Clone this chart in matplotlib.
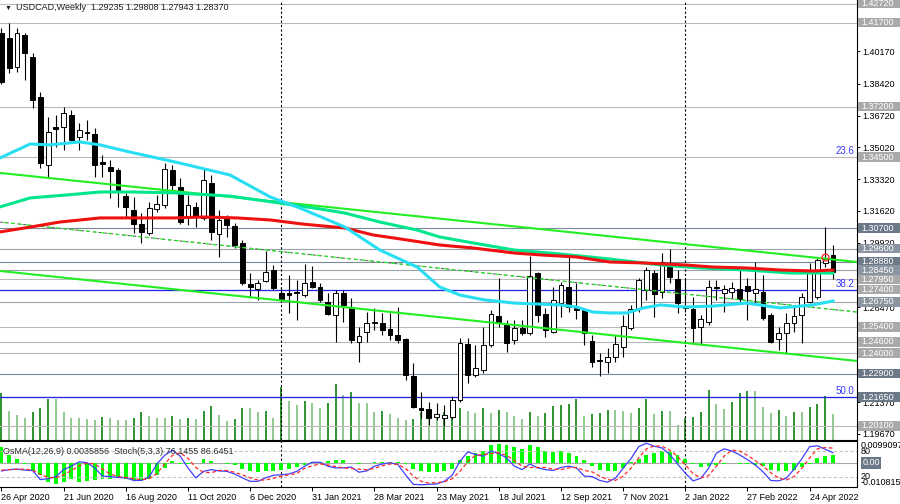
"""
USDCAD weekly chart (MT4 style): candles with moving averages, channel,
horizontal levels, tick volume overlay and an OsMA / Stochastic subwindow.
"""

import matplotlib
matplotlib.use("Agg")
import matplotlib.pyplot as plt
from matplotlib.patches import Rectangle
from matplotlib.transforms import blended_transform_factory
import numpy as np

plt.rcParams["font.family"] = ["Liberation Sans", "DejaVu Sans"]

# ---- weekly bars, 26 Apr 2020 .. 15 May 2022 ----
opens = [
    1.4114, 1.4088, 1.3932, 1.4104, 1.3986, 1.3772, 1.3407, 1.3611, 1.3611, 1.3675,
    1.3557, 1.3582, 1.3573, 1.3424, 1.3397, 1.3381, 1.3241, 1.3166, 1.3091, 1.3043,
    1.3172, 1.3193, 1.3381, 1.3290, 1.3129, 1.3183, 1.3124, 1.3311, 1.3038, 1.3118,
    1.3081, 1.2990, 1.2770, 1.2743, 1.2786, 1.2845, 1.2722, 1.2722, 1.2727, 1.2711,
    1.2781, 1.2754, 1.2674, 1.2604, 1.2722, 1.2642, 1.2460, 1.2513, 1.2561, 1.2561,
    1.2529, 1.2497, 1.2476, 1.2278, 1.2106, 1.2101, 1.2058, 1.2053, 1.2058, 1.2149,
    1.2449, 1.2283, 1.2310, 1.2444, 1.2599, 1.2551, 1.2470, 1.2535, 1.2508, 1.2829,
    1.2610, 1.2513, 1.2668, 1.2754, 1.2642, 1.2636, 1.2465, 1.2363, 1.2352, 1.2379,
    1.2433, 1.2535, 1.2636, 1.2738, 1.2829, 1.2727, 1.2861, 1.2797, 1.2655, 1.2636,
    1.2540, 1.2567, 1.2754, 1.2722, 1.2727, 1.2743, 1.2760, 1.2722, 1.2727, 1.2604,
    1.2476, 1.2508, 1.2561, 1.2604, 1.2674, 1.2701, 1.2883, 1.29235,
]
highs = [
    1.4140, 1.4168, 1.4141, 1.4114, 1.4007, 1.3798, 1.3664, 1.3675, 1.3718, 1.3702,
    1.3632, 1.3648, 1.3606, 1.3461, 1.3434, 1.3391, 1.3258, 1.3236, 1.3150, 1.3209,
    1.3247, 1.3418, 1.3407, 1.3338, 1.3247, 1.3209, 1.3391, 1.3354, 1.3166, 1.3140,
    1.3097, 1.3006, 1.2829, 1.2792, 1.2947, 1.2872, 1.2754, 1.2818, 1.2792, 1.2877,
    1.2867, 1.2776, 1.2722, 1.2738, 1.2738, 1.2695, 1.2540, 1.2620, 1.2642, 1.2615,
    1.2615, 1.2647, 1.2481, 1.2347, 1.2192, 1.2138, 1.2133, 1.2122, 1.2170, 1.2481,
    1.2481, 1.2444, 1.2540, 1.2631, 1.2802, 1.2577, 1.2577, 1.2577, 1.2920, 1.2834,
    1.2642, 1.2754, 1.2781, 1.2915, 1.2776, 1.2642, 1.2497, 1.2401, 1.2427, 1.2497,
    1.2604, 1.2658, 1.2802, 1.2861, 1.2845, 1.2936, 1.2958, 1.2845, 1.2800, 1.2701,
    1.2604, 1.2792, 1.2792, 1.2765, 1.2781, 1.2845, 1.2802, 1.2888, 1.2818, 1.2615,
    1.2540, 1.2615, 1.2658, 1.2722, 1.2883, 1.2910, 1.3075, 1.29808,
]
lows = [
    1.3840, 1.3900, 1.3905, 1.3863, 1.3713, 1.3391, 1.3343, 1.3504, 1.3488, 1.3531,
    1.3488, 1.3541, 1.3343, 1.3343, 1.3231, 1.3183, 1.3129, 1.3043, 1.2990, 1.3035,
    1.3156, 1.3177, 1.3274, 1.3091, 1.3086, 1.3075, 1.3113, 1.3006, 1.2915, 1.3022,
    1.2963, 1.2765, 1.2701, 1.2686, 1.2781, 1.2738, 1.2674, 1.2615, 1.2577, 1.2701,
    1.2749, 1.2674, 1.2604, 1.2460, 1.2567, 1.2454, 1.2352, 1.2460, 1.2524, 1.2497,
    1.2470, 1.2454, 1.2256, 1.2106, 1.2050, 1.2015, 1.2040, 1.2010, 1.2047, 1.2138,
    1.2240, 1.2272, 1.2294, 1.2433, 1.2540, 1.2406, 1.2449, 1.2497, 1.2497, 1.2567,
    1.2486, 1.2508, 1.2593, 1.2620, 1.2583, 1.2444, 1.2326, 1.2278, 1.2294, 1.2352,
    1.2379, 1.2524, 1.2620, 1.2686, 1.2593, 1.2695, 1.2776, 1.2615, 1.2620, 1.2460,
    1.2444, 1.2551, 1.2686, 1.2620, 1.2695, 1.2674, 1.2577, 1.2668, 1.2577, 1.2454,
    1.2417, 1.2401, 1.2513, 1.2454, 1.2668, 1.2690, 1.2860, 1.27943,
]
closes = [
    1.3850, 1.3927, 1.4114, 1.4007, 1.3755, 1.3418, 1.3584, 1.3600, 1.3686, 1.3541,
    1.3595, 1.3577, 1.3407, 1.3413, 1.3375, 1.3274, 1.3183, 1.3091, 1.3049, 1.3177,
    1.3199, 1.3386, 1.3300, 1.3102, 1.3193, 1.3129, 1.3327, 1.3049, 1.3113, 1.3086,
    1.2979, 1.2776, 1.2754, 1.2776, 1.2834, 1.2749, 1.2690, 1.2711, 1.2722, 1.2776,
    1.2754, 1.2686, 1.2610, 1.2722, 1.2658, 1.2470, 1.2492, 1.2561, 1.2567, 1.2524,
    1.2497, 1.2470, 1.2283, 1.2112, 1.2095, 1.2053, 1.2074, 1.2069, 1.2149, 1.2454,
    1.2283, 1.2320, 1.2444, 1.2610, 1.2561, 1.2454, 1.2535, 1.2508, 1.2813, 1.2604,
    1.2524, 1.2686, 1.2765, 1.2647, 1.2631, 1.2508, 1.2352, 1.2358, 1.2379, 1.2449,
    1.2545, 1.2636, 1.2792, 1.2845, 1.2717, 1.2888, 1.2808, 1.2668, 1.2640, 1.2535,
    1.2583, 1.2754, 1.2749, 1.2743, 1.2749, 1.2690, 1.2733, 1.2743, 1.2588, 1.2460,
    1.2508, 1.2561, 1.2599, 1.2701, 1.2845, 1.2899, 1.2904, 1.28370,
]
# tick volume (thousands)
volumes = [
    47, 29, 25, 22, 28, 32, 41, 41, 28, 22,
    22, 21, 20, 23, 22, 20, 20, 22, 28, 24,
    22, 22, 24, 21, 22, 21, 29, 34, 25, 19,
    21, 32, 32, 28, 29, 22, 53, 39, 35, 39,
    37, 32, 37, 56, 45, 48, 37, 37, 28, 29,
    26, 22, 20, 21, 28, 26, 25, 28, 30, 32,
    29, 27, 32, 27, 30, 28, 24, 21, 28, 24,
    27, 34, 35, 36, 41, 24, 26, 27, 30, 30,
    29, 27, 32, 41, 26, 29, 29, 15, 22, 23,
    28, 50, 36, 31, 38, 47, 49, 49, 33, 27,
    30, 24, 28, 28, 33, 36, 44, 26,
]
osma = [
    0.0071, 0.0037, 0.0018, -0.0003, -0.0037, -0.0055, -0.0087, -0.0095, -0.0087, -0.0074,
    -0.0087, -0.0080, -0.0075, -0.0071, -0.0072, -0.0067, -0.0071, -0.0077, -0.0080, -0.0072,
    -0.0055, -0.0021, 0.0009, -0.0003, -0.0005, -0.0002, 0.0017, 0.0009, -0.0002, -0.0006,
    -0.0009, -0.0025, -0.0037, -0.0041, -0.0037, -0.0037, -0.0032, -0.0026, -0.0018, -0.0008,
    0.0006, 0.0005, 0.0009, 0.0012, 0.0015, -0.0002, -0.0005, 0.0002, 0.0006, 0.0006,
    0.0006, 0.0005, -0.0006, -0.0025, -0.0037, -0.0041, -0.0041, -0.0037, -0.0025, 0.0015,
    0.0030, 0.0043, 0.0056, 0.0082, 0.0085, 0.0083, 0.0074, 0.0063, 0.0083, 0.0071,
    0.0055, 0.0049, 0.0055, 0.0044, 0.0032, 0.0015, -0.0012, -0.0031, -0.0034, -0.0034,
    -0.0023, 0.0005, 0.0018, 0.0034, 0.0043, 0.0054, 0.0049, 0.0034, 0.0018, -0.0006,
    -0.0018, -0.0012, -0.0008, -0.0003, 0.0001, -0.0003, -0.0005, -0.0008, -0.0012, -0.0031,
    -0.0038, -0.0034, -0.0031, -0.0018, -0.0003, 0.0023, 0.0031, 0.0035856,
]
stoch_main = [
    34, 37, 38, 36, 35, 14, 16, 21, 37, 45, 55, 53, 41, 22, 21, 19, 18, 12, 12, 20,
    50, 70, 82, 68, 41, 18, 33, 37, 34, 33, 27, 18, 10, 10, 18, 24, 25, 27, 33,
    45, 54, 54, 45, 41, 41, 43, 31, 34, 45, 50, 53, 49, 25, 3, 2, 3, 4, 10, 24,
    56, 78, 72, 68, 80, 74, 64, 45, 37, 50, 41, 37, 35, 42, 45, 41, 22,
    21, 12, 8, 17, 40, 62, 90, 98, 91, 87, 72, 50, 29, 11, 17, 40, 75, 85, 80, 71,
    60, 48, 32, 12, 11, 17, 38, 62, 90, 92, 84, 76.1455,
]
stoch_signal = [
    36, 37, 38, 38, 36, 26, 19, 18, 25, 35, 46, 52, 50, 38, 27, 21, 19, 16, 14, 16,
    28, 50, 70, 76, 63, 42, 31, 30, 35, 35, 31, 25, 18, 13, 13, 17, 22, 25, 28,
    40, 46, 50, 48, 44, 41, 40, 38, 37, 40, 46, 50, 49, 40, 22, 10, 6, 7, 9, 16,
    33, 55, 70, 72, 74, 76, 70, 58, 45, 42, 42, 42, 38, 37, 41, 42, 35,
    32, 22, 14, 12, 22, 40, 64, 85, 92, 91, 82, 68, 48, 28, 18, 23, 45, 68, 82, 80,
    70, 58, 45, 30, 18, 13, 21, 40, 64, 85, 88, 86.6451,
]

# moving averages, read at sample bars
cyan_bars = [-0.2, 3.7, 6.2, 10.1, 12.7, 16.5, 22.3, 29.4, 34.6, 38.4, 44.2, 48.7, 53.5,
             56.4, 59.0, 62.0, 66.0, 71.9, 74.0, 76.1, 78.3, 80.5, 82.6, 84.8, 88.0,
             91.6, 95.9, 100.2, 104.4, 107.0]
cyan_ma = [1.3445, 1.3520, 1.3515, 1.3531, 1.3515, 1.3477, 1.3424, 1.3354, 1.3236, 1.3177,
           1.3075, 1.2952, 1.2861, 1.2754, 1.2711, 1.2686, 1.2668, 1.2658, 1.2647, 1.2620,
           1.2615, 1.2615, 1.2642, 1.2658, 1.2647, 1.2652, 1.2668, 1.2642, 1.2658, 1.2679]
red_bars = [-0.2, 3.7, 7.5, 12.7, 17.8, 22.3, 25.9, 30.3, 34.6, 38.8, 44.2, 47.8, 52.2,
            56.4, 60.7, 66.0, 69.7, 74.0, 78.3, 82.6, 88.0, 91.6, 95.9, 100.2, 104.4, 107.0]
red_ma = [1.3049, 1.3075, 1.3102, 1.3124, 1.3124, 1.3124, 1.3129, 1.3124, 1.3113, 1.3091,
          1.3070, 1.3033, 1.3006, 1.2979, 1.2963, 1.2936, 1.2925, 1.2915, 1.2888, 1.2883,
          1.2872, 1.2861, 1.2856, 1.2845, 1.2840, 1.2845]
green_bars = [-0.2, 3.7, 8.4, 12.7, 16.9, 22.3, 29.4, 35.8, 41.0, 44.2, 48.7, 53.5, 56.4,
              60.7, 66.0, 71.9, 78.3, 84.8, 89.9, 95.9, 101.5, 107.0]
green_ma = [1.3183, 1.3231, 1.3247, 1.3263, 1.3263, 1.3258, 1.3241, 1.3204, 1.3172, 1.3150,
            1.3102, 1.3059, 1.3022, 1.2990, 1.2952, 1.2931, 1.2904, 1.2872, 1.2856, 1.2845,
            1.2829, 1.2829]

# channel trend lines (two anchor points each)
chan_bars = [-0.2, 110.1]
chan_upper = [1.3365, 1.2888]
chan_middle = [1.3102, 1.2620]
chan_lower = [1.2840, 1.2358]

# horizontal levels and their label colours
levels = [1.4272, 1.4170, 1.3720, 1.3450, 1.3070, 1.2960, 1.2888, 1.2845, 1.2795,
          1.2740, 1.2675, 1.2540, 1.2460, 1.2400, 1.2290, 1.2165, 1.2010]
level_kind = ["silver", "silver", "silver", "silver", "slate", "mid", "slate", "mid",
              "silver", "silver", "mid", "silver", "silver", "silver", "slate", "slate",
              "silver"]
fib_levels = [1.3450, 1.2740, 1.2165]
fib_labels = ["23.6", "38.2", "50.0"]
fib_drawn = [False, True, True]

# price-scale ticks that show (others sit under the level boxes)
price_ticks = [1.40170, 1.38420, 1.36720, 1.35020, 1.33320, 1.31620, 1.29920,
               1.26470, 1.21370, 1.19670]
tick_bars = [0, 8, 16, 24, 32, 40, 48, 56, 64, 72, 80, 88, 96, 104]
tick_labels = ["26 Apr 2020", "21 Jun 2020", "16 Aug 2020", "11 Oct 2020", "6 Dec 2020",
               "31 Jan 2021", "28 Mar 2021", "23 May 2021", "18 Jul 2021", "12 Sep 2021",
               "7 Nov 2021", "2 Jan 2022", "27 Feb 2022", "24 Apr 2022"]
year_bars = [36, 88]
alert_bar, alert_price = 106, 1.2913

LIME = "#22ee22"
LINE_COL = {"silver": "#b9b9b9", "mid": "#9aa2ac", "slate": "#7c8898"}
BOX_COL = {"silver": "#a9a9a9", "mid": "#8b95a1", "slate": "#6b7888"}
FS = 6.5

W, H = 900, 504


def px_rect(x0, y0, x1, y1):
    return [x0 / W, 1 - y1 / H, (x1 - x0) / W, (y1 - y0) / H]


fig = plt.figure(figsize=(W / 100, H / 100), dpi=100, facecolor="white")
ax = fig.add_axes(px_rect(0, 0, 857, 440))
axv = ax.twinx()
ax.set_zorder(axv.get_zorder() + 1)
ax.patch.set_visible(False)
axi = fig.add_axes(px_rect(0, 441, 857, 487))
axs = axi.twinx()

bars = np.arange(len(opens))
XLIM = (-0.19, 110.1)
YLIM = (1.19348, 1.4291)

# ---- volume overlay ----
vol = np.array(volumes)
vol_up = np.r_[True, vol[1:] > vol[:-1]]
axv.vlines(bars, 0, vol, colors=np.where(vol_up, "#1f8a1f", "#88c488"), lw=1.3)
axv.set_ylim(0, 440)
axv.set_yticks([])
for s in axv.spines.values():
    s.set_visible(False)

# ---- levels ----
for p, kind in zip(levels, level_kind):
    ax.axhline(p, color=LINE_COL[kind], lw=0.8, zorder=1)
for p, lab, drawn in zip(fib_levels, fib_labels, fib_drawn):
    if drawn:
        ax.axhline(p, color="#2323e6", lw=0.9, zorder=1.5)
    ax.text(0.997, p + 0.0006, lab, transform=blended_transform_factory(ax.transAxes, ax.transData),
            ha="right", va="bottom", fontsize=7, color="#3a3aff", zorder=7)

# ---- candles ----
o, h, l, c = map(np.array, (opens, highs, lows, closes))
up = c >= o
ax.vlines(bars, l, h, color="black", lw=0.8, zorder=3)
ax.bar(bars, np.maximum(np.abs(c - o), 0.00012), bottom=np.minimum(o, c), width=0.62,
       color=np.where(up, "white", "black"), edgecolor="black", linewidth=0.7, zorder=4)

# ---- channel and MAs ----
ax.plot(chan_bars, chan_upper, color=LIME, lw=1.5, zorder=5)
ax.plot(chan_bars, chan_lower, color=LIME, lw=1.5, zorder=5)
ax.plot(chan_bars, chan_middle, color="#505050", lw=0.7, ls=(0, (3, 3)), zorder=5)
ax.plot(chan_bars, chan_middle, color=LIME, lw=0.9, ls=(3, (3, 3)), zorder=5)
ax.plot(green_bars, green_ma, color="#00e68c", lw=2.2, zorder=6)
ax.plot(red_bars, red_ma, color="#ee1111", lw=2.2, zorder=6)
ax.plot(cyan_bars, cyan_ma, color="#27def2", lw=2.2, zorder=6)
ax.plot(alert_bar, alert_price, "o", mfc="none", mec="#ff2020", ms=5, mew=0.9, zorder=7)

for b in year_bars:
    ax.axvline(b, color="black", lw=0.8, ls=(0, (2, 2)), zorder=2)
    axi.axvline(b, color="black", lw=0.8, ls=(0, (2, 2)), zorder=2)

ax.set_xlim(*XLIM)
ax.set_ylim(*YLIM)
ax.set_xticks([])
ax.yaxis.tick_right()
ax.set_yticks(price_ticks)
ax.set_yticklabels([f"{p:.5f}" for p in price_ticks])
ax.tick_params(axis="y", length=2.5, width=0.7, pad=1.5, labelsize=FS, direction="out")
for side in ("left", "top"):
    ax.spines[side].set_visible(False)
for side in ("right", "bottom"):
    ax.spines[side].set_linewidth(0.8)

# label boxes on the price scale
trans = blended_transform_factory(ax.transAxes, ax.transData)
box_h = (YLIM[1] - YLIM[0]) / 440 * 9.5
for p, kind in zip(levels, level_kind):
    ax.add_patch(Rectangle((1.0015, p - box_h / 2), 0.05, box_h, transform=trans,
                           clip_on=False, fc=BOX_COL[kind], ec="none", zorder=10))
    ax.text(1.0055, p, f"{p:.5f}", transform=trans, clip_on=False, ha="left", va="center",
            fontsize=FS, color="white", zorder=11)

# ---- OsMA + Stochastic subwindow ----
axi.bar(bars, osma, width=0.5, color="#00ff00", zorder=3)
axi.axhline(0, color="#a8a8a8", lw=0.8, zorder=2)
axi.set_xlim(*XLIM)
axi.set_ylim(-0.010815, 0.0099097)
axi.set_yticks([])
axi.set_xticks(tick_bars)
axi.set_xticklabels(tick_labels, ha="left", fontsize=FS)
axi.tick_params(axis="x", length=3, width=0.7, pad=1.5, direction="out")
axi.spines["left"].set_visible(False)
for side in ("right", "top", "bottom"):
    axi.spines[side].set_linewidth(0.8)

axs.axhline(80, color="#c4c4c4", lw=0.8, ls=(0, (3, 2)))
axs.axhline(20, color="#c4c4c4", lw=0.8, ls=(0, (3, 2)))
axs.plot(bars, stoch_main, color="#4040ff", lw=0.9)
axs.plot(bars, stoch_signal, color="#ff2a2a", lw=0.9, ls=(0, (3, 2)))
axs.set_ylim(-3.1, 103.1)
axs.set_yticks([])
for s in axs.spines.values():
    s.set_visible(False)

ti = blended_transform_factory(axi.transAxes, axi.transData)
ts = blended_transform_factory(axs.transAxes, axs.transData)
axi.text(1.004, 0.0099097, "0.0099097", transform=ti, ha="left", va="top",
         fontsize=FS, clip_on=False)
axi.text(1.004, -0.010815, "-0.010815", transform=ti, ha="left", va="bottom",
         fontsize=FS, clip_on=False)
axs.text(1.004, 80, "80", transform=ts, ha="left", va="center", fontsize=FS, clip_on=False)
axs.text(1.004, 20, "20", transform=ts, ha="left", va="center", fontsize=FS, clip_on=False)
axi.text(1.006, 0, "0.00", transform=ti, ha="left", va="center", fontsize=FS, color="white",
         clip_on=False, bbox=dict(boxstyle="square,pad=0.12", fc="#6b7888", ec="none"))

# ---- headers ----
fig.text(5 / W, 1 - 8 / H, "\u25bc", fontsize=5, va="center", ha="left", color="#202020")
fig.text(16 / W, 1 - 8 / H, "USDCAD,Weekly  1.29235 1.29808 1.27943 1.28370",
         fontsize=FS, va="center", ha="left", color="#202020")
fig.text(3 / W, 1 - 451 / H, "OsMA(12,26,9) 0.0035856  Stoch(5,3,3) 76.1455 86.6451",
         fontsize=FS, va="center", ha="left", color="#303030")

fig.savefig("out.png", dpi=100, facecolor="white")
